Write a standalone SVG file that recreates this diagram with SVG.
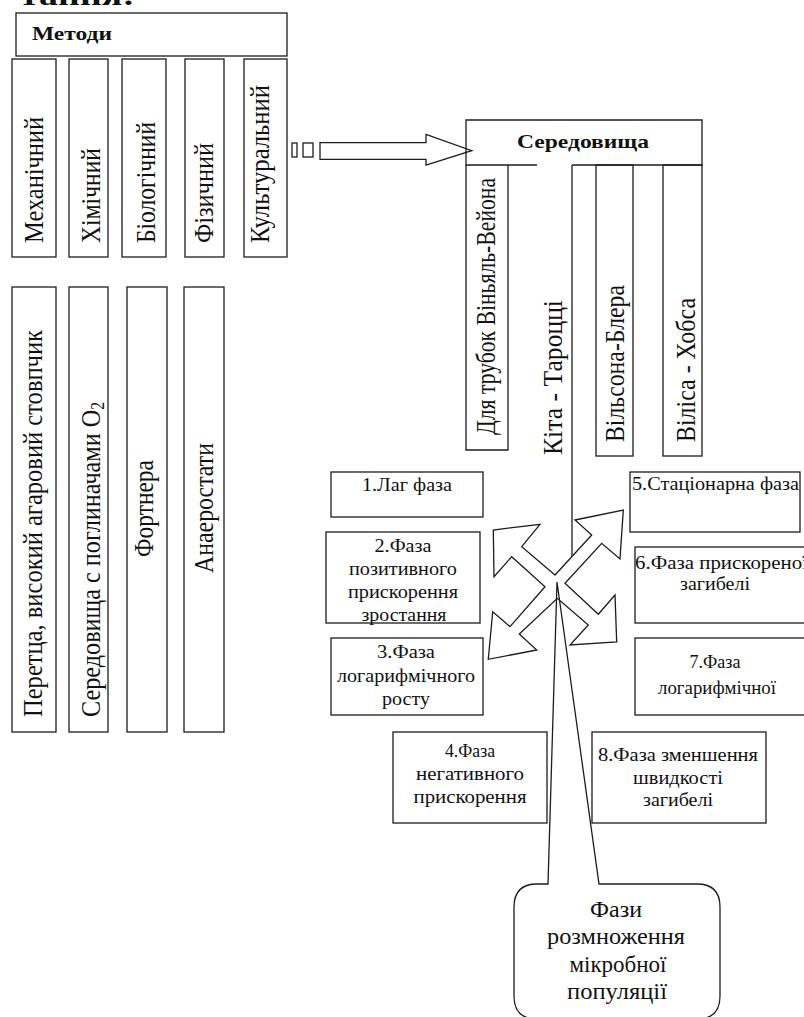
<svg xmlns="http://www.w3.org/2000/svg" width="804" height="1017" viewBox="0 0 804 1017" font-family="'Liberation Serif', 'DejaVu Serif', serif">
<style>
.b{fill:#fff;stroke:#1c1c1c;stroke-width:1.3}
.l{fill:none;stroke:#1c1c1c;stroke-width:1.3}
text{font-family:"Liberation Serif","DejaVu Serif",serif;fill:#111}
.v{font-size:28px}
.p{font-size:19px;text-anchor:middle}
.ps{font-size:19px}
.h{font-weight:bold}
.c{font-size:23px;text-anchor:middle}
</style>
<rect width="804" height="1017" fill="#fff"/>
<text class="h" x="20" y="5" font-size="27" textLength="115" lengthAdjust="spacingAndGlyphs">тання:</text>

<g id="methods">
<rect class="b" x="16" y="13" width="271" height="43"/>
<text class="h" x="32" y="40" font-size="19.5" textLength="80" lengthAdjust="spacingAndGlyphs">Методи</text>
</g>
<g id="m-mech"><rect class="b" x="12" y="59" width="44" height="198"/><text class="v" transform="translate(43,243) rotate(-90)" textLength="126" lengthAdjust="spacingAndGlyphs">Механічний</text></g>
<g id="m-chem"><rect class="b" x="69" y="59" width="39" height="198"/><text class="v" transform="translate(100,243) rotate(-90)" textLength="95" lengthAdjust="spacingAndGlyphs">Хімічний</text></g>
<g id="m-bio"><rect class="b" x="122" y="59" width="44" height="198"/><text class="v" transform="translate(155,243) rotate(-90)" textLength="121" lengthAdjust="spacingAndGlyphs">Біологічний</text></g>
<g id="m-phys"><rect class="b" x="185" y="59" width="39" height="198"/><text class="v" transform="translate(213,243) rotate(-90)" textLength="100" lengthAdjust="spacingAndGlyphs">Фізичний</text></g>
<g id="m-cult"><rect class="b" x="244" y="59" width="43" height="198"/><text class="v" transform="translate(269,243) rotate(-90)" textLength="158" lengthAdjust="spacingAndGlyphs">Культуральний</text></g>

<g id="a-peretz"><rect class="b" x="12" y="287" width="44" height="445"/><text class="v" transform="translate(42,717) rotate(-90)" textLength="387" lengthAdjust="spacingAndGlyphs">Перетца, високий агаровий стовпчик</text></g>
<g id="a-absorb"><rect class="b" x="69" y="287" width="39" height="445"/><text class="v" transform="translate(100,717) rotate(-90)" textLength="315" lengthAdjust="spacingAndGlyphs">Середовища с поглиначами O<tspan font-size="18" dy="4">2</tspan></text></g>
<g id="a-fortner"><rect class="b" x="127" y="287" width="40" height="445"/><text class="v" transform="translate(153,557) rotate(-90)" textLength="97" lengthAdjust="spacingAndGlyphs">Фортнера</text></g>
<g id="a-anaero"><rect class="b" x="184" y="287" width="40" height="445"/><text class="v" transform="translate(213,573) rotate(-90)" textLength="130" lengthAdjust="spacingAndGlyphs">Анаеростати</text></g>

<g id="connectors">
<rect class="b" x="292" y="143" width="5" height="14"/>
<rect class="b" x="303" y="143" width="10" height="14"/>
<polygon class="b" points="320,142.7 426,142.7 426,134.3 471.7,150.7 426,165 426,159.3 320,159.3"/>
</g>

<g id="media">
<path class="l" d="M537,165 L466,165 L466,120 L702,120 L702,165 L572,165"/>
<text class="h" x="517" y="148" font-size="19" textLength="132" lengthAdjust="spacingAndGlyphs">Середовища</text>
</g>
<g id="e-vinal"><path class="l" d="M466,165 L466,450 L508,450 L508,165"/><text class="v" transform="translate(495,435) rotate(-90)" textLength="257" lengthAdjust="spacingAndGlyphs">Для трубок Віньяль-Вейона</text></g>
<g id="e-kita"><path class="l" d="M572,165 L572,556"/><text class="v" transform="translate(562,455) rotate(-90)" textLength="155" lengthAdjust="spacingAndGlyphs">Кіта  - Тароцці</text></g>
<g id="e-wilson"><rect class="l" x="596" y="165" width="37" height="291"/><text class="v" transform="translate(624,442) rotate(-90)" textLength="157" lengthAdjust="spacingAndGlyphs">Вільсона-Блера</text></g>
<g id="e-wilis"><rect class="l" x="663" y="165" width="39" height="291"/><text class="v" transform="translate(695,442) rotate(-90)" textLength="144" lengthAdjust="spacingAndGlyphs">Віліса - Хобса</text></g>

<g id="cross-arrow">
<polygon class="b" points="555,575 521.7,546.7 540,524.3 493.3,530 494,576.7 511.7,556.7 545,586.7 510,626.7 492.7,611.7 488.3,659.3 536.7,650 519.3,634 557.3,598.3 588.3,625 570,645 616.7,642 615,595 598.3,614.3 565,583.3 601.7,543.3 620,559 623.3,510 575,520 591.7,535"/>
</g>

<g id="ph1"><rect class="b" x="331" y="472" width="152" height="45"/><text class="p" x="407" y="491" textLength="90" lengthAdjust="spacingAndGlyphs">1.Лаг фаза</text></g>
<g id="ph2"><rect class="b" x="326" y="532" width="154" height="91"/>
<text class="p" x="403" y="552" textLength="57" lengthAdjust="spacingAndGlyphs">2.Фаза</text>
<text class="p" x="403" y="575" textLength="108" lengthAdjust="spacingAndGlyphs">позитивного</text>
<text class="p" x="403" y="598" textLength="110" lengthAdjust="spacingAndGlyphs">прискорення</text>
<text class="p" x="404" y="621" textLength="85" lengthAdjust="spacingAndGlyphs">зростання</text></g>
<g id="ph3"><rect class="b" x="331" y="638" width="152" height="77"/>
<text class="p" x="406" y="658" textLength="58" lengthAdjust="spacingAndGlyphs">3.Фаза</text>
<text class="p" x="406" y="682" textLength="138" lengthAdjust="spacingAndGlyphs">логарифмічного</text>
<text class="p" x="406" y="705" textLength="48" lengthAdjust="spacingAndGlyphs">росту</text></g>
<g id="ph4"><rect class="b" x="393" y="732" width="154" height="91"/>
<text class="p" x="470" y="757" textLength="50" lengthAdjust="spacingAndGlyphs">4.Фаза</text>
<text class="p" x="470" y="780" textLength="108" lengthAdjust="spacingAndGlyphs">негативного</text>
<text class="p" x="470" y="803" textLength="113" lengthAdjust="spacingAndGlyphs">прискорення</text></g>
<g id="ph5"><rect class="b" x="630" y="472" width="170" height="60"/>
<text class="ps" x="632" y="490" textLength="167" lengthAdjust="spacingAndGlyphs">5.Стаціонарна фаза</text></g>
<g id="ph6"><rect class="b" x="635" y="547" width="171" height="76"/>
<text class="ps" x="635" y="569" textLength="173" lengthAdjust="spacingAndGlyphs">6.Фаза прискореної</text>
<text class="p" x="715" y="590" textLength="70" lengthAdjust="spacingAndGlyphs">загибелі</text></g>
<g id="ph7"><rect class="b" x="635" y="638" width="171" height="77"/>
<text class="p" x="715" y="668" textLength="51" lengthAdjust="spacingAndGlyphs">7.Фаза</text>
<text class="p" x="717" y="694" textLength="118" lengthAdjust="spacingAndGlyphs">логарифмічної</text></g>
<g id="ph8"><rect class="b" x="592" y="732" width="174" height="91"/>
<text class="p" x="678" y="761" textLength="160" lengthAdjust="spacingAndGlyphs">8.Фаза зменшення</text>
<text class="p" x="678" y="784" textLength="90" lengthAdjust="spacingAndGlyphs">швидкості</text>
<text class="p" x="678" y="806" textLength="70" lengthAdjust="spacingAndGlyphs">загибелі</text></g>

<g id="callout">
<path class="l" d="M548,884 L557,582 L599,884 L697,884 Q720,884 720,907 L720,996 Q720,1019 697,1019 L537,1019 Q514,1019 514,996 L514,907 Q514,884 537,884 Z"/>
<text class="c" x="616" y="917" textLength="52" lengthAdjust="spacingAndGlyphs">Фази</text>
<text class="c" x="616" y="944" textLength="138" lengthAdjust="spacingAndGlyphs">розмноження</text>
<text class="c" x="618" y="972" textLength="97" lengthAdjust="spacingAndGlyphs">мікробної</text>
<text class="c" x="617" y="999" textLength="100" lengthAdjust="spacingAndGlyphs">популяції</text>
</g>
</svg>
